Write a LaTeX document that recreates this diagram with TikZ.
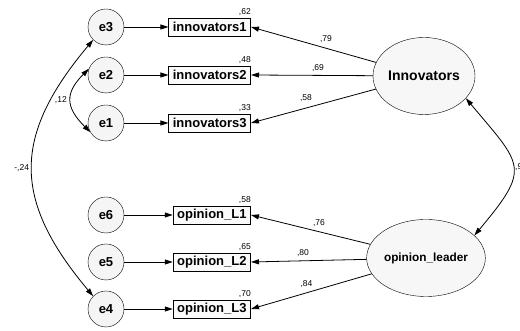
\documentclass[tikz,border=0pt]{standalone}
\usepackage{fontspec}
\setmainfont{Liberation Sans}
\usetikzlibrary{arrows.meta,positioning,shapes.geometric}
\begin{document}
\begin{tikzpicture}[x=1pt,y=1pt]
\tikzstyle{every node}+=[inner sep=0pt]
\tikzstyle{err}=[draw, circle, fill=gray!8, minimum size=36pt, font=\fontsize{13}{13}\selectfont\bfseries]
\tikzstyle{obs}=[draw, line width=0.9pt, fill=gray!4, minimum height=18pt, inner xsep=4pt, anchor=east, font=\fontsize{13}{13}\selectfont\bfseries]
\tikzstyle{lat}=[draw, ellipse, fill=gray!6, minimum width=102pt, minimum height=77pt]
\tikzstyle{est}=[font=\fontsize{8.5}{9}\selectfont]
\tikzstyle{arr}=[-{Triangle[length=8pt,width=5pt]}, line width=0.8pt]
\tikzstyle{cov}=[{Triangle[length=8pt,width=5pt]}-{Triangle[length=8pt,width=5pt]}, line width=0.8pt]
\useasboundingbox (0,0) rectangle (520,331);

% error terms
\node[err] (e3) at (106,304) {e3};
\node[err] (e2) at (106,256) {e2};
\node[err] (e1) at (106,208) {e1};
\node[err] (e6) at (106,116) {e6};
\node[err] (e5) at (106,69) {e5};
\node[err] (e4) at (106,22) {e4};

% indicators
\node[obs] (in1) at (251,304) {innovators1};
\node[obs] (in2) at (251,256) {innovators2};
\node[obs] (in3) at (251,208) {innovators3};
\node[obs] (op1) at (251,116) {opinion\_L1};
\node[obs] (op2) at (251,69) {opinion\_L2};
\node[obs] (op3) at (251,22) {opinion\_L3};

% factors
\node[lat, font=\fontsize{14}{14}\selectfont\bfseries] (inn) at (424,255) {Innovators};
\node[lat, font=\fontsize{11.8}{12}\selectfont\bfseries] (opl) at (426,73) {opinion\_leader};

% squared multiple correlations
\node[est, above left=2pt and 0pt of in1.north east] {,62};
\node[est, above left=2pt and 0pt of in2.north east] {,48};
\node[est, above left=2pt and 0pt of in3.north east] {,33};
\node[est, above left=2pt and 0pt of op1.north east] {,58};
\node[est, above left=2pt and 0pt of op2.north east] {,65};
\node[est, above left=2pt and 0pt of op3.north east] {,70};

% errors to indicators
\draw[arr] (e3) -- (in1);
\draw[arr] (e2) -- (in2);
\draw[arr] (e1) -- (in3);
\draw[arr] (e6) -- (op1);
\draw[arr] (e5) -- (op2);
\draw[arr] (e4) -- (op3);

% loadings
\draw[arr] (inn) -- (in1.east) node[est, pos=0.4, above=5pt] {,79};
\draw[arr] (inn) -- (in2.east) node[est, pos=0.45, above=3pt] {,69};
\draw[arr] (inn) -- (in3.east) node[est, pos=0.56, above=6pt] {,58};
\draw[arr] (opl) -- (op1.east) node[est, pos=0.43, above=5pt] {,76};
\draw[arr] (opl) -- (op2.east) node[est, pos=0.55, above=4pt] {,80};
\draw[arr] (opl) -- (op3.east) node[est, pos=0.54, above=5pt] {,84};

% covariances
\draw[cov] (e3.225) to[out=230,in=130,looseness=1.26] node[est, left=3pt] {-,24} (e4.135);
\draw[cov] (e2.160) to[out=225,in=135,looseness=1.4] node[est, left=4pt] {,12} (e1.210);
\draw[cov] (inn.-28) to[out=-50,in=50,looseness=1.65] node[est, right=2pt] {,9} (opl.25);
\end{tikzpicture}
\end{document}
